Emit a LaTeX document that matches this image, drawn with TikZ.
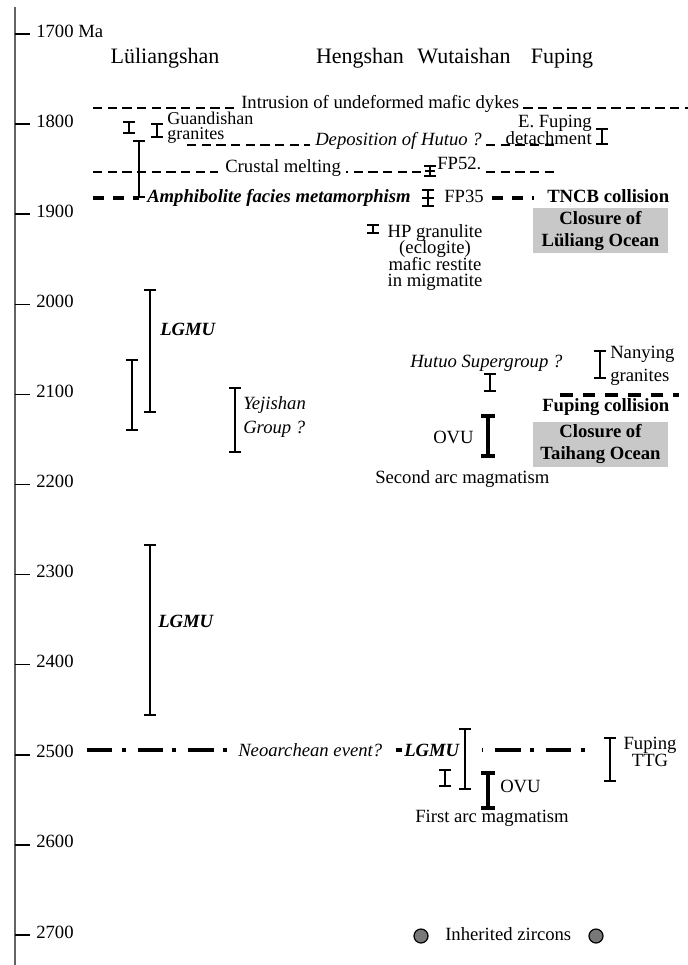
\documentclass[tikz,border=0pt]{standalone}
\usepackage{fontspec}
\setmainfont{Liberation Serif}
\usepackage{xcolor}
\usetikzlibrary{positioning,arrows.meta}
\definecolor{boxgray}{RGB}{200,200,200}
\definecolor{axisgray}{RGB}{100,100,100}
\definecolor{zircongray}{RGB}{120,120,120}
\tikzset{
    every node/.style={inner sep=0pt, execute at begin node={\lineskiplimit=-20pt}},
    lbl/.style={font=\fontsize{14}{16}\selectfont},
    lbli/.style={font=\fontsize{14}{16}\selectfont\itshape},
    lblb/.style={font=\fontsize{14}{16}\selectfont\bfseries},
    lblbi/.style={font=\fontsize{14}{16}\selectfont\bfseries\itshape},
    stacked/.style={font=\fontsize{14}{12.4}\selectfont},
    header/.style={font=\fontsize{16.5}{18}\selectfont},
    tick/.style={line width=1.1pt},
    agebar/.style={line width=1.5pt, {Bar[width=9pt]}-{Bar[width=9pt]}},
    heavybar/.style={line width=3pt, {Bar[width=10pt]}-{Bar[width=10pt]}},
    thindash/.style={line width=0.8pt, dash pattern=on 7pt off 4pt},
    thickdash/.style={line width=2.5pt, dash pattern=on 8pt off 7pt},
    dashdot/.style={line width=2.4pt, dash pattern=on 19pt off 7pt on 3pt off 9pt},
    oceanbox/.style={fill=boxgray, minimum width=101.25pt, minimum height=33.75pt,
        align=center, font=\fontsize{14}{16.5}\selectfont\bfseries},
    zircon/.style={circle, draw, line width=0.9pt, fill=zircongray, minimum size=10.5pt}
}
\begin{document}
\begin{tikzpicture}[x=0.75pt, y=-0.75pt]
    \useasboundingbox (0,0) rectangle (688,965);

    % Time axis
    \draw[axisgray, line width=1.1pt] (15,7) -- (15,965);
    \foreach \t [count=\i from 0] in {1700 Ma,1800,1900,2000,2100,2200,2300,2400,2500,2600,2700} {
        \draw[tick] (15,{34+90.1*\i}) -- (30,{34+90.1*\i});
        \node[lbl, anchor=base west] (age\i) at (36,{37+90.1*\i}) {\t};
    }

    % Column heads
    \node[header, anchor=base] (lueliangshan) at (165,63) {Lüliangshan};
    \node[header, anchor=base] (hengshan) at (360,63) {Hengshan};
    \node[header, anchor=base] (wutaishan) at (464,63) {Wutaishan};
    \node[header, anchor=base] (fuping) at (562,63) {Fuping};

    % Mafic dykes
    \node[lbl, anchor=base west] (dykes) at (241,108) {Intrusion of undeformed mafic dykes};
    \draw[thindash] (93,108) -- ([xshift=-2pt]dykes.base west);
    \draw[thindash] ([xshift=3pt]dykes.base east) -- (688,108);

    % Guandishan granites
    \draw[agebar] (129,121) -- (129,134);
    \draw[agebar] (157,123) -- (157,138);
    \node[lbl, font=\fontsize{13.5}{11}\selectfont, align=left, anchor=north west] (guandishan) at (167,112) {Guandishan\\granites};
    \draw[agebar] (139,140) -- (139,198);

    % E. Fuping detachment
    \node[stacked, align=right, anchor=north east] (detach) at (592,115) {E. Fuping\\detachment};
    \draw[agebar] (602,128) -- (602,145);

    % Deposition of Hutuo
    \node[lbli, anchor=base west] (hutuodep) at (315,145) {Deposition of Hutuo ?};
    \draw[thindash] (187,145) -- ([xshift=-4pt]hutuodep.base west);
    \draw[thindash] ([xshift=3pt]hutuodep.base east) -- (558,145);

    % Crustal melting
    \node[lbl, anchor=base west] (melting) at (225,172) {Crustal melting};
    \draw[thindash] (93,172) -- ([xshift=-5pt]melting.base west);
    \draw[thindash, dash phase=5.5pt] ([xshift=4pt]melting.base east) -- (421,172);
    \draw[agebar] (430,165) -- (430,177);
    \draw[line width=1.5pt] (425,171) -- (435,171);
    \node[lbl, anchor=base west] (fp52) at (437,169) {FP52.};
    \draw[thindash] (486,172) -- (558,172);

    % TNCB collision
    \draw[thickdash] (93,198) -- (139,198);
    \node[lblbi, anchor=base west] (amph) at (147,202) {Amphibolite facies metamorphism};
    \draw[agebar] (428,189) -- (428,207);
    \draw[line width=2.2pt] (422,198) -- (434,198);
    \node[lbl, anchor=base west] (fp35) at (444,202) {FP35};
    \draw[thickdash] (492,198) -- (534,198);
    \node[lblb, anchor=base west] (tncb) at (547,202) {TNCB collision};
    \node[oceanbox] (lueliangocean) at (600.5,230.5) {Closure of\\Lüliang Ocean};

    % HP granulite
    \draw[agebar] (373,224) -- (373,234);
    \node[stacked, align=center, anchor=north] (hpgran) at (435,224) {HP granulite\\(eclogite)\\mafic restite\\in migmatite};

    % Lüliangshan, 2.0--2.2 Ga
    \draw[agebar] (150,289) -- (150,413);
    \node[lblbi, anchor=base west] (lgmua) at (160,335) {LGMU};
    \draw[agebar] (132,359) -- (132,431);
    \draw[agebar] (235,387) -- (235,453);
    \node[lbli, font=\fontsize{14}{18}\selectfont\itshape, align=left, anchor=north west] (yejishan) at (243,396) {Yejishan\\Group ?};

    % Wutaishan and Fuping, 2.0--2.2 Ga
    \node[lbli, anchor=base west] (hutuosg) at (410,367) {Hutuo Supergroup ?};
    \draw[agebar] (490,373) -- (490,392);
    \draw[agebar] (600,350) -- (600,379);
    \node[lbl, font=\fontsize{14}{17}\selectfont, align=left, anchor=north west] (nanying) at (610,346) {Nanying\\granites};
    \draw[line width=3pt, dash pattern=on 9.5pt off 7.5pt] (560,395) -- (679,395);
    \node[lblb, anchor=base west] (fupingcoll) at (542,411) {Fuping collision};
    \draw[heavybar] (488,414) -- (488,458);
    \node[lbl, anchor=base west] (ovua) at (433,443) {OVU};
    \node[oceanbox] (taihangocean) at (600.5,444) {Closure of\\Taihang Ocean};
    \node[lbl, anchor=base west] (secondarc) at (375,483) {Second arc magmatism};

    % Lüliangshan, 2.3--2.5 Ga
    \draw[agebar] (150,544) -- (150,716);
    \node[lblbi, anchor=base west] (lgmub) at (158,627) {LGMU};

    % Neoarchean event
    \draw[dashdot] (87,750) -- (230,750);
    \node[lbli, anchor=base west] (neoarch) at (238,756) {Neoarchean event?};
    \draw[line width=2.4pt] (396,750) -- (402,750);
    \node[lblbi, anchor=base west] (lgmuc) at (404,756) {LGMU};
    \draw[agebar] (465,728) -- (465,790);
    \draw[dashdot, dash phase=28pt] (482,750) -- (592,750);
    \draw[agebar] (445,769) -- (445,787);
    \draw[heavybar] (488,771) -- (488,810);
    \node[lbl, anchor=base west] (ovub) at (500,792) {OVU};
    \node[lbl, anchor=base west] (firstarc) at (415,822) {First arc magmatism};
    \draw[agebar] (610,737) -- (610,782);
    \node[stacked, align=center, anchor=north] (fupingttg) at (650,737) {Fuping\\TTG};

    % Legend
    \node[zircon] (zircona) at (421,936) {};
    \node[lbl, anchor=base west] (inherited) at (445,940) {Inherited zircons};
    \node[zircon] (zirconb) at (596,936) {};
\end{tikzpicture}
\end{document}
